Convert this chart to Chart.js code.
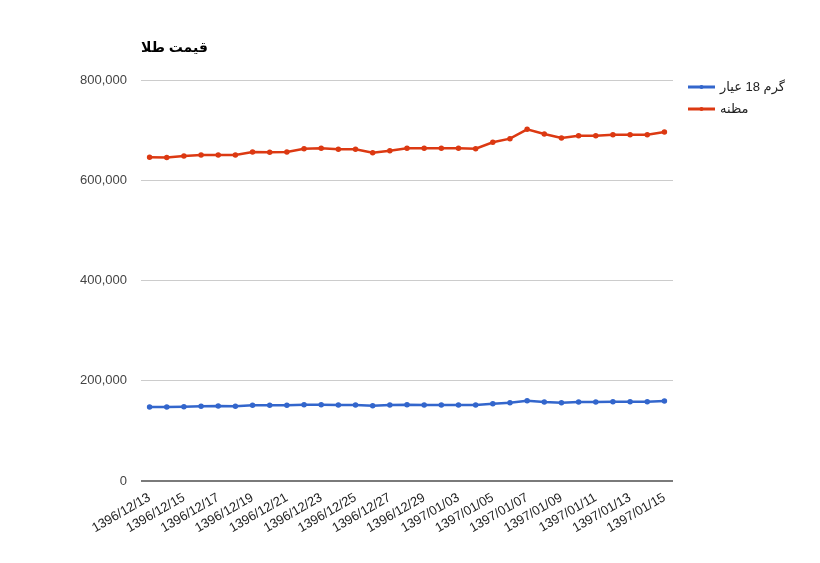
<!DOCTYPE html>
<html>
<head>
<meta charset="utf-8">
<script src="https://cdn.jsdelivr.net/npm/chart.js@4.4.0/dist/chart.umd.min.js"></script>
<style>
  html, body { margin: 0; padding: 0; background: #fff; }
  #wrap { width: 820px; height: 563px; position: relative; }
</style>
</head>
<body>
<div id="wrap"><canvas id="chart" width="820" height="563"></canvas></div>
<script>
const chartTitle = "قیمت طلا";

const dates = [
    "1396/12/13", "1396/12/14", "1396/12/15", "1396/12/16", "1396/12/17", "1396/12/18",
    "1396/12/19", "1396/12/20", "1396/12/21", "1396/12/22", "1396/12/23", "1396/12/24",
    "1396/12/25", "1396/12/26", "1396/12/27", "1396/12/28", "1396/12/29", "1397/01/01",
    "1397/01/03", "1397/01/04", "1397/01/05", "1397/01/06", "1397/01/07", "1397/01/08",
    "1397/01/09", "1397/01/10", "1397/01/11", "1397/01/12", "1397/01/13", "1397/01/14",
    "1397/01/15"
];

const gram18Label = "گرم 18 عیار";
const gram18 = [
    147600, 147600, 148300, 149000, 149600, 149000, 151000, 151000, 151000, 152300,
    152300, 151600, 151600, 150300, 151600, 152300, 151600, 151600, 151600, 151600,
    154300, 156200, 160200, 157600, 156200, 157600, 157600, 158300, 158300, 158300,
    159600
];

const mazanehLabel = "مظنه";
const mazaneh = [
    645800, 645400, 648400, 650400, 650400, 650400, 656400, 655800, 656400, 663000,
    663800, 661800, 661800, 655000, 659000, 663700, 663700, 663700, 663700, 663000,
    675700, 683000, 701600, 692300, 684300, 689000, 689000, 690900, 690900, 690900,
    696300
];

const yTicks = [0, 200000, 400000, 600000, 800000];

const FONT = "Arial, 'Liberation Sans', 'DejaVu Sans', sans-serif";

// Titre en haut à gauche
const titlePlugin = {
    id: 'leftTitle',
    afterDraw(chart) {
        const { ctx } = chart;
        ctx.save();
        ctx.font = "bold 14px " + FONT;
        ctx.fillStyle = '#000';
        ctx.textAlign = 'left';
        ctx.textBaseline = 'middle';
        ctx.fillText(chartTitle, chart.chartArea.left, 48);
        ctx.restore();
    }
};

// Légende à droite, style ligne + point
const sideLegendPlugin = {
    id: 'sideLegend',
    afterDraw(chart) {
        const { ctx } = chart;
        const x0 = chart.chartArea.right + 15;
        ctx.save();
        chart.data.datasets.forEach((ds, i) => {
            const y = 87 + i * 22;
            ctx.strokeStyle = ds.borderColor;
            ctx.lineWidth = 3;
            ctx.beginPath();
            ctx.moveTo(x0, y);
            ctx.lineTo(x0 + 27, y);
            ctx.stroke();
            ctx.fillStyle = ds.borderColor;
            ctx.beginPath();
            ctx.arc(x0 + 13.5, y, 2, 0, Math.PI * 2);
            ctx.fill();
            ctx.font = "13px " + FONT;
            ctx.fillStyle = '#222';
            ctx.textAlign = 'left';
            ctx.textBaseline = 'middle';
            ctx.fillText(ds.label, x0 + 32, y);
        });
        ctx.restore();
    }
};

const ctx = document.getElementById('chart').getContext('2d');

new Chart(ctx, {
    type: 'line',
    data: {
        labels: dates,
        datasets: [
            {
                label: gram18Label,
                data: gram18,
                borderColor: '#3366cc',
                backgroundColor: '#3366cc',
                borderWidth: 2.5,
                pointRadius: 1.5,
                pointHoverRadius: 2,
                tension: 0
            },
            {
                label: mazanehLabel,
                data: mazaneh,
                borderColor: '#dc3912',
                backgroundColor: '#dc3912',
                borderWidth: 2.5,
                pointRadius: 1.5,
                pointHoverRadius: 2,
                tension: 0
            }
        ]
    },
    options: {
        responsive: false,
        animation: false,
        layout: {
            padding: { top: 80, right: 147, left: 0, bottom: 0 }
        },
        plugins: {
            legend: { display: false },
            title: { display: false },
            tooltip: { enabled: false }
        },
        scales: {
            x: {
                offset: true,
                grid: { display: false, drawTicks: false },
                border: { display: false },
                ticks: {
                    autoSkip: false,
                    minRotation: 30,
                    maxRotation: 30,
                    padding: 9,
                    color: '#222',
                    font: { family: FONT, size: 13 },
                    callback: (value, index) => index % 2 === 0 ? dates[index] : ''
                },
                afterFit: (scale) => { scale.height = 82; }
            },
            y: {
                min: 0,
                max: 800000,
                afterBuildTicks: (scale) => {
                    scale.ticks = yTicks.map(v => ({ value: v }));
                },
                grid: {
                    drawTicks: false,
                    color: (c) => c.tick.value === 0 ? '#7a7a7a' : '#cccccc',
                    lineWidth: (c) => c.tick.value === 0 ? 2 : 1
                },
                border: { display: false },
                ticks: {
                    padding: 14,
                    color: '#444',
                    font: { family: FONT, size: 13 },
                    callback: (v) => v.toLocaleString('en-US')
                },
                afterFit: (scale) => { scale.width = 141; }
            }
        }
    },
    plugins: [titlePlugin, sideLegendPlugin]
});
</script>
</body>
</html>
